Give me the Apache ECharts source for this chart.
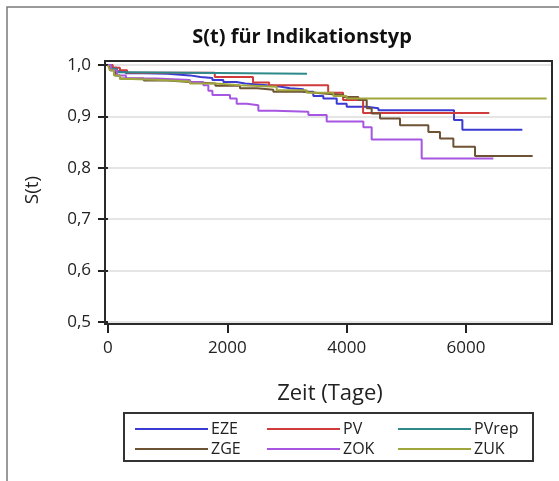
<!DOCTYPE html>
<html><head><meta charset="utf-8">
<script src="https://cdn.jsdelivr.net/npm/echarts@6/dist/echarts.min.js"></script>
<style>html,body{margin:0;padding:0;background:#fff}#c{width:559px;height:481px}</style>
</head><body><div id="c"></div>
<script>
const seriesNames = ['EZE','PV','PVrep','ZGE','ZOK','ZUK'];
const seriesColors = ['#3b3bd2','#d03b3b','#2e8a8a','#6e5234','#a656e0','#9ea63c'];
const xTicks = [0,2000,4000,6000];
const yTicks = [0.5,0.6,0.7,0.8,0.9,1.0];

const ezeT = [0,60,150,300,600,1000,1374,1550,1750,1933,2150,2300,2550,2771,2900,3050,3274,3441,3609,3833,4000,4336,4531,5799,5939,6944];
const ezeS = [1.0,0.995,0.988,0.984,0.983,0.980,0.977,0.975,0.971,0.967,0.964,0.962,0.960,0.958,0.955,0.953,0.948,0.940,0.935,0.925,0.919,0.916,0.912,0.893,0.874,0.874];

const pvT = [0,80,200,320,1790,2430,2700,3690,3940,4275,6390];
const pvS = [1.0,0.995,0.990,0.985,0.977,0.966,0.961,0.946,0.932,0.907,0.907];

const pvrepT = [0,50,150,300,3335];
const pvrepS = [1.0,0.993,0.986,0.983,0.983];

const zgeT = [0,34,120,201,600,1000,1374,1800,2212,2500,2771,3330,3553,3944,4196,4336,4419,4559,4894,5369,5564,5788,6151,7117];
const zgeS = [1.0,0.990,0.980,0.974,0.970,0.967,0.964,0.960,0.955,0.952,0.948,0.945,0.942,0.938,0.932,0.916,0.906,0.896,0.883,0.870,0.857,0.841,0.823,0.823];

const zokT = [0,50,150,300,800,1374,1598,1682,1750,2045,2157,2324,2520,2799,3358,3665,4280,4419,5257,6458];
const zokS = [1.0,0.990,0.980,0.974,0.971,0.967,0.961,0.950,0.942,0.935,0.925,0.922,0.911,0.909,0.903,0.890,0.879,0.855,0.818,0.818];

const zukT = [0,30,100,200,400,900,1374,1800,2212,2827,3330,3777,4000,7352];
const zukS = [1.0,0.990,0.980,0.973,0.971,0.968,0.964,0.961,0.958,0.951,0.946,0.940,0.935,0.935];

const allT = [ezeT,pvT,pvrepT,zgeT,zokT,zukT];
const allS = [ezeS,pvS,pvrepS,zgeS,zokS,zukS];

const FONT = 'Open Sans';
const chart = echarts.init(document.getElementById('c'), null, {renderer:'canvas'});

const series = seriesNames.map((n,k)=>({
  name:n, type:'line', step:'end', showSymbol:false, symbol:'none',
  data: allT[k].map((t,i)=>[t, allS[k][i]]),
  lineStyle:{color:seriesColors[k], width:2},
  itemStyle:{color:seriesColors[k]},
  emphasis:{disabled:true}, animation:false
}));

function mkLegend(left, names){
  return {
    left:left, top:416, orient:'vertical', itemGap:4,
    data:names, icon:'rect', itemWidth:73, itemHeight:2, selectedMode:false,
    textStyle:{fontFamily:FONT, fontSize:16, color:'#222', padding:[0,0,0,-2]}
  };
}

chart.setOption({
  animation:false,
  backgroundColor:'#fff',
  grid:{left:105, top:61, right:7, bottom:157},
  xAxis:{
    type:'value', min:-50, max:7441,
    axisLine:{show:false},
    axisTick:{show:true, customValues:xTicks, length:9, lineStyle:{color:'#222', width:2}},
    axisLabel:{customValues:xTicks, fontFamily:FONT, fontSize:17, color:'#222', margin:16,
      formatter:v=>String(Math.round(v))},
    splitLine:{show:false}
  },
  yAxis:{
    type:'value', min:0.496, max:1.008,
    axisLine:{show:false},
    axisTick:{show:true, customValues:yTicks, length:10, lineStyle:{color:'#222', width:2}},
    axisLabel:{customValues:yTicks, fontFamily:FONT, fontSize:17, color:'#222', margin:14,
      formatter:v=>v.toFixed(1).replace('.',',')},
    splitLine:{show:true, lineStyle:{color:'#dcdcdc', width:1.5}}
  },
  legend:[mkLegend(130,['EZE','ZGE']), mkLegend(262,['PV','ZOK']), mkLegend(393,['PVrep','ZUK'])],
  series:series,
  graphic:[
    {type:'rect', shape:{x:7,y:7,width:600,height:600}, style:{fill:null, stroke:'#7a7a7a', lineWidth:1.5}, silent:true, z:-10},
    {type:'rect', shape:{x:105,y:61,width:447,height:263}, style:{fill:null, stroke:'#2a2a2a', lineWidth:2}, silent:true, z:10},
    {type:'rect', shape:{x:124,y:413,width:409,height:48}, style:{fill:null, stroke:'#333', lineWidth:2}, silent:true},
    {type:'text', x:302, y:37, style:{text:'S(t) für Indikationstyp', fontFamily:FONT, fontWeight:'bold', fontSize:20, fill:'#111', align:'center', verticalAlign:'middle'}},
    {type:'text', x:330, y:394, style:{text:'Zeit (Tage)', fontFamily:FONT, fontSize:22, fill:'#222', align:'center', verticalAlign:'middle'}},
    {type:'text', x:33, y:190, rotation:Math.PI/2, style:{text:'S(t)', fontFamily:FONT, fontSize:19, fill:'#222', align:'center', verticalAlign:'middle'}}
  ]
});
</script></body></html>
